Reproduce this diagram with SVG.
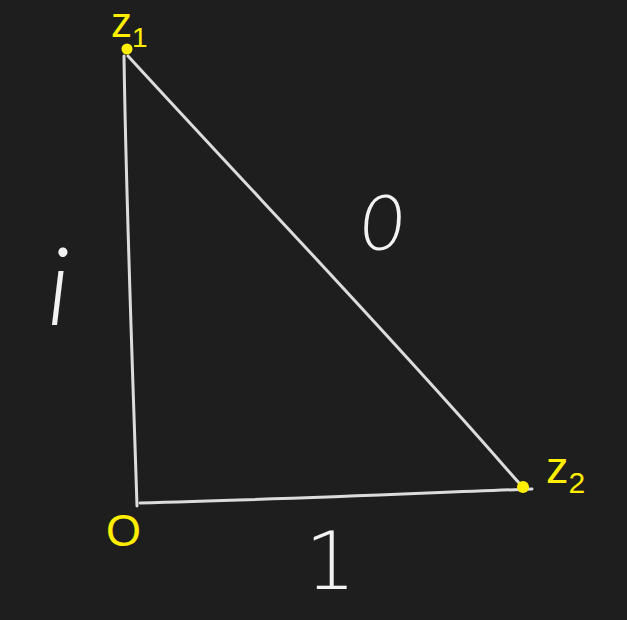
<svg xmlns="http://www.w3.org/2000/svg" width="627" height="620" viewBox="0 0 627 620">
<style>
.edge{fill:none;stroke:#dcdcdc;stroke-width:3;stroke-linecap:round;stroke-linejoin:round}
.pt{fill:#ffee00}
.lbl{fill:#ffee00;font-family:"Liberation Sans",Arial,sans-serif}
.hand{fill:#f2f2f2;font-family:Lato,"Liberation Sans",sans-serif;font-weight:300}
.hand1{fill:#f2f2f2;font-family:"DejaVu Sans","Liberation Sans",sans-serif;font-weight:200}
</style>
<rect width="627" height="620" fill="#1f1e1e"/>
<g id="connectors">
<path class="edge" d="M124,56 C126,200 133,380 137,506"/>
<path class="edge" d="M128,56 C260,200 390,335 504,466 C512,475 517,481 521,485"/>
<path class="edge" d="M140,503 C270,500 400,494 532,489"/>
</g>
<g id="z1">
<circle class="pt" cx="127" cy="49" r="5.5"/>
<text class="lbl" x="111" y="37" font-size="42">z<tspan font-size="28" dy="10">1</tspan></text>
</g>
<g id="z2">
<circle class="pt" cx="523" cy="487" r="6"/>
<text class="lbl" x="546" y="483" font-size="45">z<tspan font-size="30" dy="10">2</tspan></text>
</g>
<g id="O">
<text class="lbl" x="106" y="546" font-size="45">O</text>
</g>
<g id="label-i">
<text class="hand" x="47" y="325" font-size="108" font-style="italic">i</text>
</g>
<g id="label-0">
<text class="hand" x="360" y="250" font-size="76" font-style="italic">0</text>
</g>
<g id="label-1">
<text class="hand1" x="305" y="589" font-size="80">1</text>
</g>
</svg>
